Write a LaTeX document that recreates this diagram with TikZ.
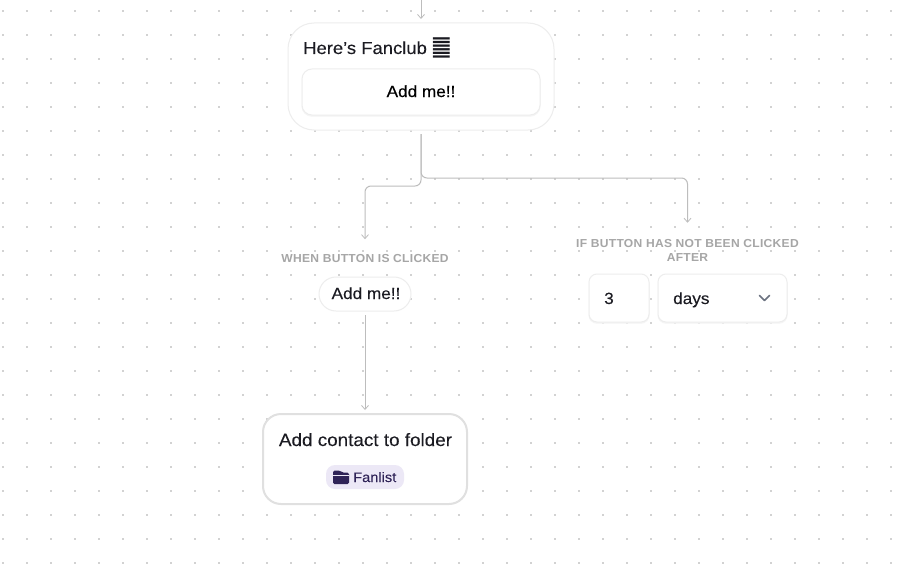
\documentclass[tikz,border=0pt]{standalone}
\usepackage{fontspec}
\usetikzlibrary{arrows.meta,calc}
\setmainfont{Liberation Sans}[FakeStretch=1.06,FakeBold=0.08]
\newfontfamily\mediumfont{Liberation Sans}[FakeStretch=1.06,FakeBold=0.35]
\newfontfamily\capsfont{Liberation Sans Bold}[FakeStretch=1.04,LetterSpace=2.5]
\newfontfamily\symfont{DejaVu Sans}
\definecolor{edge}{HTML}{EDEDED}
\definecolor{shade}{HTML}{F5F5F5}
\definecolor{wire}{HTML}{BDBDBD}
\definecolor{griddot}{HTML}{D2D2D2}
\definecolor{capgrey}{HTML}{A6A6A6}
\definecolor{ink}{HTML}{1B1B22}
\definecolor{lilac}{HTML}{ECE8F6}
\definecolor{plum}{HTML}{2F2357}
\definecolor{chev}{HTML}{6B7280}
\tikzset{
  x=1pt,y=-1pt,
  box/.style={draw=#1,fill=white,line width=1pt,inner sep=0pt,outer sep=0pt,anchor=north west},
  box/.default=edge,
  lift/.style={preaction={draw=shade,fill=shade,line width=1pt,transform canvas={yshift=-1.2pt}}},
  body/.style={font=\fontsize{17.4}{20}\selectfont,text=ink,inner sep=0pt},
  small/.style={font=\fontsize{16.2}{20}\selectfont,text=ink,inner sep=0pt},
  caplabel/.style={font=\capsfont\fontsize{11.6}{14}\selectfont,text=capgrey,inner sep=0pt,align=center},
  conn/.style={draw=wire,line width=1pt,rounded corners=6pt,-{Straight Barb[length=4pt,width=7pt,line width=0.8pt]}},
}
\begin{document}
\begin{tikzpicture}
\useasboundingbox (0,0) rectangle (910,578);
\fill[white] (0,0) rectangle (910,578);
% dotted canvas
\foreach \i in {0,...,37}{\foreach \j in {0,...,23}{
  \fill[griddot] ({3+24*\i-0.6},{11+24*\j-0.6}) rectangle ++(1.2,1.2);
}}
% start of the incoming connector
\coordinate (entry) at (421,0);
% message card
\node[box,rounded corners=26pt,minimum width=266pt,minimum height=107pt] (card) at (288,23) {};
\node[box,lift,rounded corners=10pt,minimum width=238pt,minimum height=46pt] (btn) at (302,69) {};
\node[body,anchor=base west] (title) at (303,54) {Here's Fanclub};
\node[body,anchor=center,font=\symfont\fontsize{23}{24}\selectfont] (hex) at (441.5,47.5) {䷀};
\node[small,font=\mediumfont\fontsize{16.2}{20}\selectfont,text=black,anchor=base] (btntext) at (421,97) {Add me!!};
% branch labels
\node[caplabel] (when) at (365,258.8) {WHEN BUTTON IS CLICKED};
\node[caplabel] (ifnot) at (687.5,250.2) {IF BUTTON HAS NOT BEEN CLICKED\\[0pt]AFTER};
% choice pill
\node[box,rounded corners=17pt,minimum width=92pt,minimum height=34pt] (pill) at (319,277) {};
\node[small,anchor=base] (pilltext) at (366,299) {Add me!!};
% delay inputs
\node[box,lift,rounded corners=8pt,minimum width=60pt,minimum height=48pt] (num) at (589,274) {};
\node[small,anchor=base west] (numtext) at (604,304) {3};
\node[box,lift,rounded corners=8pt,minimum width=129pt,minimum height=48pt] (sel) at (658,274) {};
\node[small,anchor=base west] (seltext) at (673,304) {days};
\coordinate (chevmid) at (764.5,298);
\draw[chev,line width=1.5pt,line cap=round,line join=round] ($(chevmid)+(-5,-2.5)$) -- ($(chevmid)+(0,2.5)$) -- ($(chevmid)+(5,-2.5)$);
% folder action
\node[box=edge,draw=black!12,line width=2pt,rounded corners=18pt,minimum width=204pt,minimum height=90pt] (action) at (263,414) {};
\node[body,anchor=base,font=\fontsize{17.8}{20}\selectfont] (actiontext) at (365.5,446) {Add contact to folder};
\node[fill=lilac,rounded corners=9pt,inner sep=0pt,outer sep=0pt,minimum width=78pt,minimum height=24pt] (tag) at (365,477) {};
\node[body,anchor=base west,font=\fontsize{13.8}{16}\selectfont,text=plum] (tagtext) at (353,482) {Fanlist};
\fill[plum,rounded corners=1.5pt] (333,470.5) -- (340,470.5) -- (342,472.5) -- (349,472.5) -- (349,484) -- (333,484) -- cycle;
\draw[lilac,line width=0.7pt] (333,475) -- (349,475);
% connectors
\draw[conn] (entry) -- ($(card.north)+(0,-4)$);
\draw[conn,shorten <=4pt,shorten >=15.3pt] (card.south) -- ++(0,56) -| (when.north);
\draw[conn,shorten <=4pt,shorten >=16.2pt] (card.south) -- ++(0,48) -| (ifnot.north);
\draw[conn,shorten <=4pt,shorten >=4pt] (pill.south) -- (action.north);
\end{tikzpicture}
\end{document}
